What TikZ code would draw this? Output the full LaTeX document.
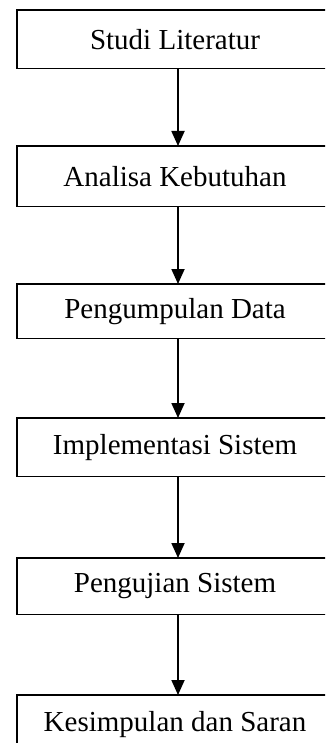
\documentclass[tikz,border=0pt]{standalone}
\usepackage{fontspec}
\setmainfont{Liberation Serif}
\usetikzlibrary{arrows.meta}
\begin{document}
\begin{tikzpicture}[x=1pt,y=-1pt,
  stepbox/.style={minimum width=316pt,inner sep=0pt,font=\fontsize{29}{32}\selectfont,anchor=north},
  boxline/.style={draw=black,line width=1.6pt},
  flow/.style={line width=1.8pt,-{Triangle[width=13pt,length=15pt]}}]
\useasboundingbox (0,0) rectangle (325,743);
\clip (0,0) rectangle (325,743);
\node[stepbox,minimum height=58pt] (s1) at (175,10) {Studi Literatur};
\node[stepbox,minimum height=60pt] (s2) at (175,146) {Analisa Kebutuhan};
\node[stepbox,minimum height=54pt] (s3) at (175,284) {Pengumpulan Data};
\node[stepbox,minimum height=58pt] (s4) at (175,418) {Implementasi Sistem};
\node[stepbox,minimum height=56pt] (s5) at (175,558) {Pengujian Sistem};
\node[stepbox,minimum height=58pt] (s6) at (175,695) {Kesimpulan dan Saran};
\foreach \n in {s1,s2,s3,s4,s5,s6}
  \draw[boxline] (\n.north west) rectangle ([xshift=30pt]\n.south east);
\draw[flow] ([xshift=3pt]s1.south) -- ([xshift=3pt]s2.north);
\draw[flow] ([xshift=3pt]s2.south) -- ([xshift=3pt]s3.north);
\draw[flow] ([xshift=3pt]s3.south) -- ([xshift=3pt]s4.north);
\draw[flow] ([xshift=3pt]s4.south) -- ([xshift=3pt]s5.north);
\draw[flow] ([xshift=3pt]s5.south) -- ([xshift=3pt]s6.north);
\end{tikzpicture}
\end{document}
